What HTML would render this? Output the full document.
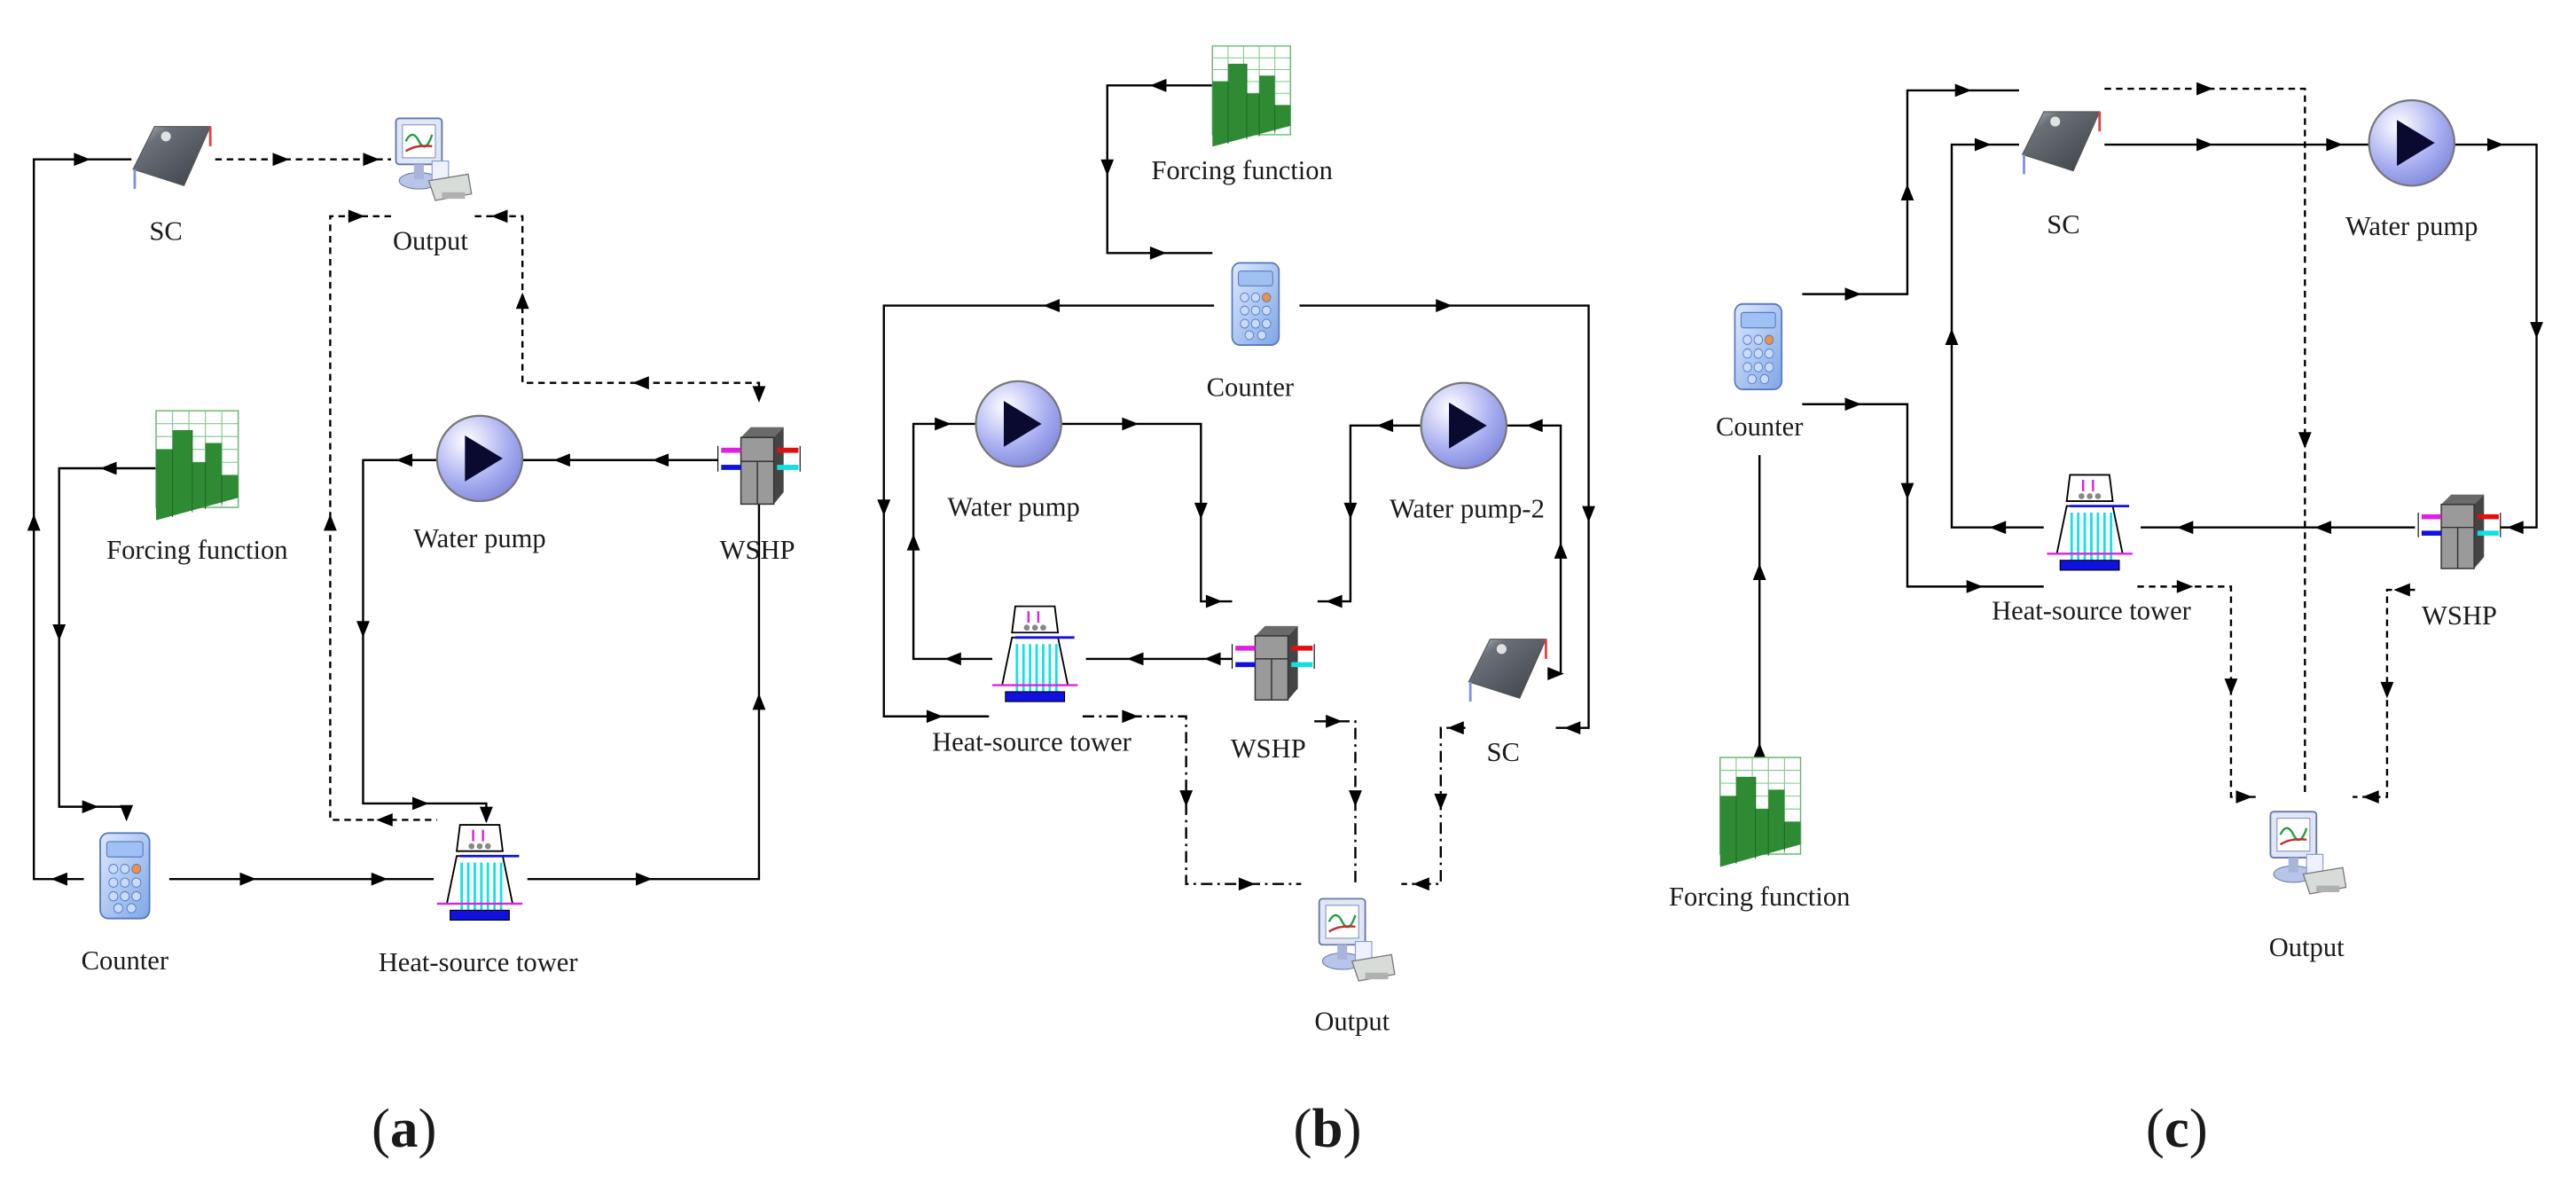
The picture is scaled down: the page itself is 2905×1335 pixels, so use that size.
<!DOCTYPE html>
<html><head><meta charset="utf-8"><style>
html,body{margin:0;padding:0;background:#fff;}
svg{display:block;}
text{font-family:"Liberation Serif",serif;font-size:16.5px;fill:#1a1a1a;}
.cap{font-size:34px;}
</style></head><body>
<svg width="2905" height="1335" viewBox="0 0 1568 720.6" preserveAspectRatio="none" xmlns="http://www.w3.org/2000/svg">
<defs>
<linearGradient id="gsc" x1="0" y1="0" x2="1" y2="1"><stop offset="0" stop-color="#c8ccd2"/><stop offset="0.25" stop-color="#6a7078"/><stop offset="1" stop-color="#3a3f46"/></linearGradient>
<radialGradient id="gp" cx="0.35" cy="0.3" r="0.8"><stop offset="0" stop-color="#ffffff"/><stop offset="0.6" stop-color="#a8aef0"/><stop offset="1" stop-color="#7c83d8"/></radialGradient>
<linearGradient id="gc" x1="0" y1="0" x2="1" y2="1"><stop offset="0" stop-color="#dce9ff"/><stop offset="1" stop-color="#7ea6e6"/></linearGradient>
<path id="ar" d="M-5,-4 L5,0 L-5,4Z" fill="#000"/>
<g id="sc">
 <polygon points="13,2 47,2 31,38 0,28" fill="url(#gsc)" stroke="#555" stroke-width="0.6"/>
 <line x1="47" y1="2" x2="47" y2="14" stroke="#e04040" stroke-width="1.5"/>
 <line x1="1" y1="28" x2="1" y2="40" stroke="#8090e0" stroke-width="1.5"/>
 <circle cx="20" cy="8" r="3" fill="#fff" opacity="0.8"/>
</g>
<g id="out">
 <rect x="2" y="4" width="28" height="28" rx="2" fill="#dfe6f5" stroke="#6677aa" stroke-width="1"/>
 <rect x="6" y="8" width="20" height="20" fill="#fff" stroke="#8899bb" stroke-width="0.6"/>
 <path d="M8,18 q4,-8 8,0 t8,-4" fill="none" stroke="#20a040" stroke-width="1.3"/>
 <path d="M8,24 q6,-4 16,-3" fill="none" stroke="#c03030" stroke-width="1.3"/>
 <ellipse cx="16" cy="42" rx="12" ry="5" fill="#b8c4e8" stroke="#7080b0" stroke-width="0.6"/>
 <rect x="13" y="32" width="6" height="9" fill="#a8b4d8"/>
 <rect x="24" y="30" width="10" height="12" fill="#eef2ff" stroke="#8899cc" stroke-width="0.6"/>
 <polygon points="22,42 46,38 48,50 26,54" fill="#d8dcd8" stroke="#777" stroke-width="0.7"/>
 <rect x="30" y="49" width="14" height="4" fill="#b0b0b0"/>
</g>
<g id="ff">
 <rect x="0" y="0" width="50" height="60" fill="#fff" stroke="#5fb86f" stroke-width="0.8"/>
 <g stroke="#7fc88a" stroke-width="0.6">
  <line x1="10" y1="0" x2="10" y2="60"/><line x1="20" y1="0" x2="20" y2="60"/><line x1="30" y1="0" x2="30" y2="60"/><line x1="40" y1="0" x2="40" y2="60"/>
  <line x1="0" y1="8" x2="50" y2="8"/><line x1="0" y1="16" x2="50" y2="16"/><line x1="0" y1="24" x2="50" y2="24"/><line x1="0" y1="32" x2="50" y2="32"/><line x1="0" y1="40" x2="50" y2="40"/>
 </g>
 <polygon points="0,24 10,24 10,12 22,12 22,32 30,32 30,20 40,20 40,40 50,40 50,54 0,68" fill="#2e8b34"/>
 <g stroke="#1f6a24" stroke-width="0.6"><line x1="10" y1="24" x2="10" y2="66"/><line x1="22" y1="12" x2="22" y2="63"/><line x1="30" y1="32" x2="30" y2="61"/><line x1="40" y1="40" x2="40" y2="58"/></g>
</g>
<g id="pump">
 <circle cx="0" cy="0" r="26" fill="url(#gp)" stroke="#777" stroke-width="1.2"/>
 <polygon points="-9,-14 14,0 -9,14" fill="#0a0a30"/>
</g>
<g id="wshp">
 <polygon points="14,6 20,0 40,0 34,6" fill="#6a6a6a"/>
 <polygon points="34,6 40,0 40,38 34,45" fill="#444"/>
 <rect x="14" y="6" width="20" height="39" fill="#9a9a9a" stroke="#333" stroke-width="0.8"/>
 <line x1="24" y1="20" x2="24" y2="45" stroke="#333" stroke-width="0.8"/>
 <line x1="14" y1="20" x2="34" y2="20" stroke="#333" stroke-width="0.8"/>
 <rect x="2" y="12" width="12" height="3" fill="#e020e0"/><rect x="2" y="22" width="12" height="3" fill="#1010e0"/>
 <rect x="36" y="12" width="13" height="3" fill="#e01010"/><rect x="36" y="22" width="13" height="3" fill="#10e0e0"/>
 <g stroke="#000" stroke-width="0.6"><line x1="0" y1="11" x2="0" y2="26"/><line x1="50" y1="11" x2="50" y2="26"/></g>
</g>
<g id="tower">
 <polygon points="10,0 34,0 36,16 8,16" fill="#fff" stroke="#000" stroke-width="1"/>
 <g stroke="#e020e0" stroke-width="1.3"><line x1="18" y1="10" x2="18" y2="3"/><line x1="24" y1="10" x2="24" y2="3"/></g>
 <circle cx="17" cy="13" r="1.8" fill="#888"/><circle cx="22" cy="13" r="1.8" fill="#888"/><circle cx="27" cy="13" r="1.8" fill="#888"/>
 <polygon points="8,19 36,19 42,48 2,48" fill="#fff" stroke="#000" stroke-width="1"/>
 <line x1="10" y1="19" x2="46" y2="19" stroke="#1010e0" stroke-width="1.5"/>
 <g stroke="#10e0e8" stroke-width="1.5"><line x1="11" y1="23" x2="11" y2="52"/><line x1="15" y1="23" x2="15" y2="52"/><line x1="19" y1="23" x2="19" y2="52"/><line x1="23" y1="23" x2="23" y2="52"/><line x1="27" y1="23" x2="27" y2="52"/><line x1="31" y1="23" x2="31" y2="52"/><line x1="35" y1="23" x2="35" y2="52"/></g>
 <line x1="-4" y1="48" x2="48" y2="48" stroke="#e020e0" stroke-width="1.3"/>
 <rect x="4" y="52" width="36" height="6" fill="#1010e0" stroke="#000" stroke-width="0.6"/>
</g>
<g id="ctr">
 <rect x="0" y="0" width="30" height="50" rx="5" fill="url(#gc)" stroke="#5a7ac0" stroke-width="1"/>
 <rect x="4" y="5" width="22" height="9" rx="1.5" fill="#9ec0f2" stroke="#5a7ac0" stroke-width="0.6"/>
 <g fill="#c8dcfa" stroke="#5a7ac0" stroke-width="0.5">
  <circle cx="8" cy="21" r="2.7"/><circle cx="15" cy="21" r="2.7"/><circle cx="22" cy="21" r="2.7" fill="#f09040"/>
  <circle cx="8" cy="29" r="2.7"/><circle cx="15" cy="29" r="2.7"/><circle cx="22" cy="29" r="2.7"/>
  <circle cx="8" cy="37" r="2.7"/><circle cx="15" cy="37" r="2.7"/><circle cx="22" cy="37" r="2.7"/>
  <circle cx="11" cy="44" r="2.7"/><circle cx="19" cy="44" r="2.7"/>
 </g>
</g>
</defs>

<g fill="none" stroke="#000" stroke-width="1.3">
<path d="M51,535 H20.6 V97 H80"/>
<path d="M103,535 H264"/>
<path d="M321,535 H462 V306"/>
<path d="M437,280 H318"/>
<path d="M266,280 H221 V489 H296 V500"/>
<path d="M95,285 H36 V491 H77 V498"/>
<path d="M738,52 H674 V154 H738"/>
<path d="M739,186 H538 V436 H602"/>
<path d="M791,186 H967 V443 H947"/>
<path d="M645,258 H731 V366 H750"/>
<path d="M604,401 H556 V258 H595"/>
<path d="M750,401 H661"/>
<path d="M866,259 H822 V366 H802"/>
<path d="M917,259 H950 V410 H945"/>
<path d="M1097,179 H1161 V55 H1229"/>
<path d="M1097,246 H1161 V357 H1244"/>
<path d="M1071,277 V461"/>
<path d="M1244,321 H1188 V88 H1229"/>
<path d="M1281,88 H1443"/>
<path d="M1494,88 H1544 V321 H1522"/>
<path d="M1470,321 H1303"/>
</g>
<g fill="none" stroke="#000" stroke-width="1.3" stroke-dasharray="4,3">
<path d="M131,97 H238"/>
<path d="M238,131.6 H201 V499 H266"/>
<path d="M289,131.6 H318 V233 H462 V240"/>
<path d="M1281,54 H1403 V485"/>
<path d="M1301,357 H1358 V485 H1376"/>
<path d="M1470,359 H1453 V485 H1432"/>
</g>
<g fill="none" stroke="#000" stroke-width="1.3" stroke-dasharray="7,3,1.5,3">
<path d="M659,436 H722 V538 H792"/>
<path d="M800,439 H825 V538"/>
<path d="M892,443 H877 V538 H853"/>
</g>

<use href="#ar" transform="translate(36,535) rotate(180)"/>
<use href="#ar" transform="translate(20.6,318) rotate(-90)"/>
<use href="#ar" transform="translate(50,97)"/>
<use href="#ar" transform="translate(171,97)"/>
<use href="#ar" transform="translate(226,97)"/>
<use href="#ar" transform="translate(217,131.6)"/>
<use href="#ar" transform="translate(304,131.6) rotate(180)"/>
<use href="#ar" transform="translate(318,183) rotate(-90)"/>
<use href="#ar" transform="translate(390,233) rotate(180)"/>
<use href="#ar" transform="translate(462,240) rotate(90)"/>
<use href="#ar" transform="translate(201,318) rotate(-90)"/>
<use href="#ar" transform="translate(234,499) rotate(180)"/>
<use href="#ar" transform="translate(402,280) rotate(180)"/>
<use href="#ar" transform="translate(342,280) rotate(180)"/>
<use href="#ar" transform="translate(246,280) rotate(180)"/>
<use href="#ar" transform="translate(221,383) rotate(90)"/>
<use href="#ar" transform="translate(256,489)"/>
<use href="#ar" transform="translate(296,496) rotate(90)"/>
<use href="#ar" transform="translate(66,285) rotate(180)"/>
<use href="#ar" transform="translate(36,385) rotate(90)"/>
<use href="#ar" transform="translate(55,491)"/>
<use href="#ar" transform="translate(77,495) rotate(90)"/>
<use href="#ar" transform="translate(151,535)"/>
<use href="#ar" transform="translate(231,535)"/>
<use href="#ar" transform="translate(392,535)"/>
<use href="#ar" transform="translate(462,427) rotate(-90)"/>
<use href="#ar" transform="translate(705,52) rotate(180)"/>
<use href="#ar" transform="translate(674,102) rotate(90)"/>
<use href="#ar" transform="translate(705,154)"/>
<use href="#ar" transform="translate(640,186) rotate(180)"/>
<use href="#ar" transform="translate(538,309) rotate(90)"/>
<use href="#ar" transform="translate(569,436)"/>
<use href="#ar" transform="translate(879,186)"/>
<use href="#ar" transform="translate(967,313) rotate(90)"/>
<use href="#ar" transform="translate(957,443) rotate(180)"/>
<use href="#ar" transform="translate(688,258)"/>
<use href="#ar" transform="translate(731,311) rotate(90)"/>
<use href="#ar" transform="translate(739,366)"/>
<use href="#ar" transform="translate(556,330) rotate(-90)"/>
<use href="#ar" transform="translate(574,258)"/>
<use href="#ar" transform="translate(580,401) rotate(180)"/>
<use href="#ar" transform="translate(738,401) rotate(180)"/>
<use href="#ar" transform="translate(691,401) rotate(180)"/>
<use href="#ar" transform="translate(843,259) rotate(180)"/>
<use href="#ar" transform="translate(822,311) rotate(90)"/>
<use href="#ar" transform="translate(812,366) rotate(180)"/>
<use href="#ar" transform="translate(934,259) rotate(180)"/>
<use href="#ar" transform="translate(950,335) rotate(-90)"/>
<use href="#ar" transform="translate(947,410)"/>
<use href="#ar" transform="translate(688,436)"/>
<use href="#ar" transform="translate(722,486) rotate(90)"/>
<use href="#ar" transform="translate(759,538)"/>
<use href="#ar" transform="translate(812,439)"/>
<use href="#ar" transform="translate(825,486) rotate(90)"/>
<use href="#ar" transform="translate(886,443) rotate(180)"/>
<use href="#ar" transform="translate(877,488) rotate(90)"/>
<use href="#ar" transform="translate(865,538) rotate(180)"/>
<use href="#ar" transform="translate(1128,179)"/>
<use href="#ar" transform="translate(1161,117) rotate(-90)"/>
<use href="#ar" transform="translate(1195,55)"/>
<use href="#ar" transform="translate(1128,246)"/>
<use href="#ar" transform="translate(1161,299) rotate(90)"/>
<use href="#ar" transform="translate(1202,357)"/>
<use href="#ar" transform="translate(1071,348) rotate(-90)"/>
<use href="#ar" transform="translate(1071,457) rotate(-90)"/>
<use href="#ar" transform="translate(1188,205) rotate(-90)"/>
<use href="#ar" transform="translate(1207,88)"/>
<use href="#ar" transform="translate(1342,88)"/>
<use href="#ar" transform="translate(1421,88)"/>
<use href="#ar" transform="translate(1519,88)"/>
<use href="#ar" transform="translate(1544,201) rotate(90)"/>
<use href="#ar" transform="translate(1531,321) rotate(180)"/>
<use href="#ar" transform="translate(1414,321) rotate(180)"/>
<use href="#ar" transform="translate(1330,321) rotate(180)"/>
<use href="#ar" transform="translate(1216,321) rotate(180)"/>
<use href="#ar" transform="translate(1342,54)"/>
<use href="#ar" transform="translate(1403,268) rotate(90)"/>
<use href="#ar" transform="translate(1330,357)"/>
<use href="#ar" transform="translate(1358,418) rotate(90)"/>
<use href="#ar" transform="translate(1366,485)"/>
<use href="#ar" transform="translate(1462,359) rotate(180)"/>
<use href="#ar" transform="translate(1453,420) rotate(90)"/>
<use href="#ar" transform="translate(1443,485) rotate(180)"/>

<use href="#sc" transform="translate(81,75)"/>
<use href="#out" transform="translate(239,68)"/>
<use href="#ff" transform="translate(95,250) scale(1,0.98)"/>
<use href="#pump" transform="translate(292,279)"/>
<use href="#wshp" transform="translate(437,260) scale(1,1.04)"/>
<use href="#ctr" transform="translate(61,507) scale(1,1.04)"/>
<use href="#tower" transform="translate(270,502)"/>
<use href="#ff" transform="translate(738,28) scale(0.95,0.9)"/>
<use href="#ctr" transform="translate(750,160) scale(0.95,1)"/>
<use href="#pump" transform="translate(620,258)"/>
<use href="#pump" transform="translate(891,259)"/>
<use href="#tower" transform="translate(608,369)"/>
<use href="#wshp" transform="translate(750,381)"/>
<use href="#sc" transform="translate(894,387)"/>
<use href="#out" transform="translate(801,543)"/>
<use href="#ctr" transform="translate(1056,185) scale(0.95,1.04)"/>
<use href="#ff" transform="translate(1047,461) scale(0.98,0.98)"/>
<use href="#sc" transform="translate(1231,66)"/>
<use href="#pump" transform="translate(1468,87)"/>
<use href="#wshp" transform="translate(1472,301)"/>
<use href="#tower" transform="translate(1250,289)"/>
<use href="#out" transform="translate(1380,490)"/>

<g text-anchor="middle">
<text x="101" y="146">SC</text>
<text x="262" y="152">Output</text>
<text x="120" y="340">Forcing function</text>
<text x="292" y="333">Water pump</text>
<text x="461" y="340">WSHP</text>
<text x="76" y="590">Counter</text>
<text x="291" y="591">Heat-source tower</text>
<text x="756" y="109">Forcing function</text>
<text x="761" y="241">Counter</text>
<text x="617" y="314">Water pump</text>
<text x="893" y="315">Water pump-2</text>
<text x="628" y="457">Heat-source tower</text>
<text x="772" y="461">WSHP</text>
<text x="915" y="463">SC</text>
<text x="823" y="627">Output</text>
<text x="1071" y="265">Counter</text>
<text x="1071" y="551">Forcing function</text>
<text x="1256" y="142">SC</text>
<text x="1468" y="143">Water pump</text>
<text x="1497" y="380">WSHP</text>
<text x="1273" y="377">Heat-source tower</text>
<text x="1404" y="582">Output</text>
<text class="cap" x="246" y="698">(<tspan font-weight="bold">a</tspan>)</text>
<text class="cap" x="808" y="698">(<tspan font-weight="bold">b</tspan>)</text>
<text class="cap" x="1325" y="698">(<tspan font-weight="bold">c</tspan>)</text>
</g>
</svg>
</body></html>
